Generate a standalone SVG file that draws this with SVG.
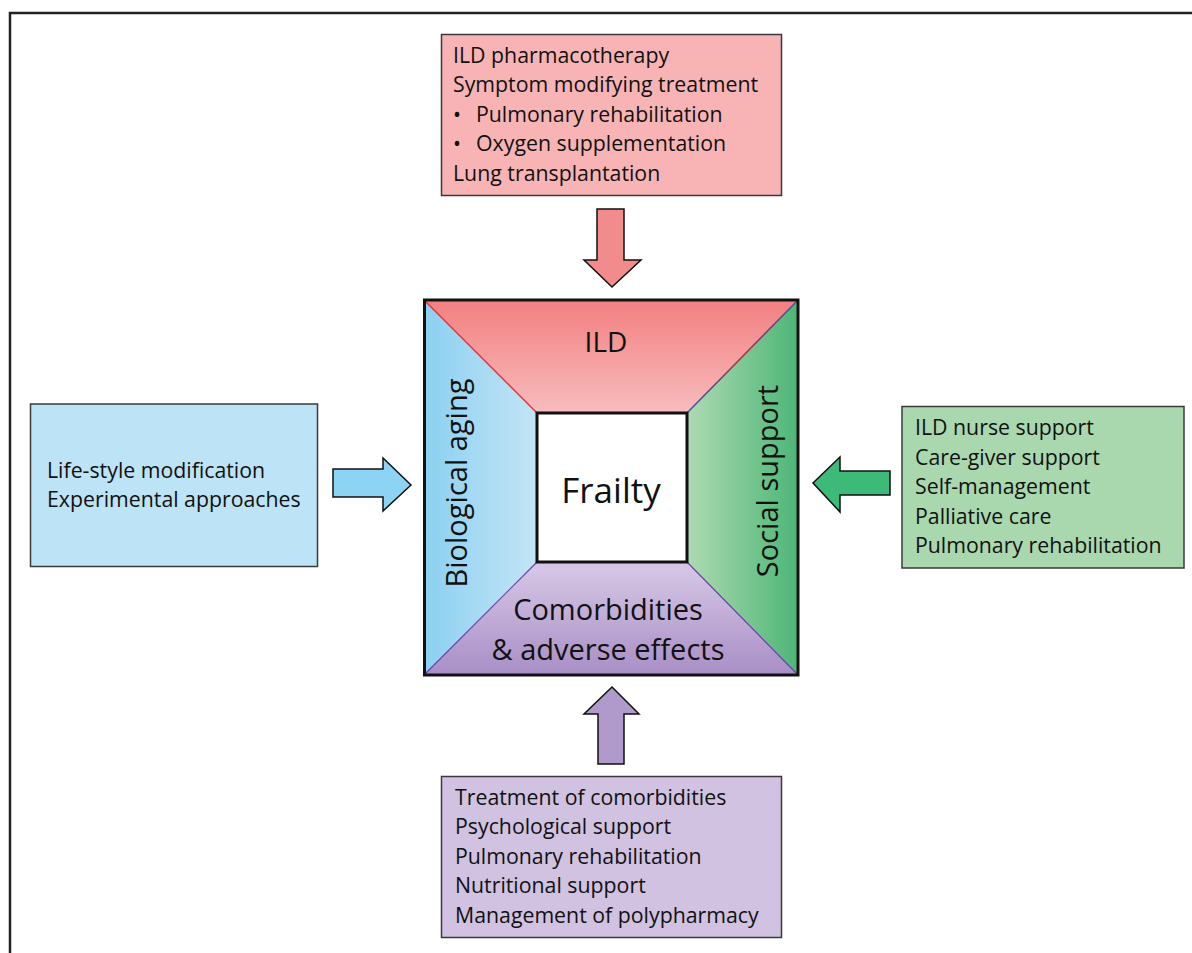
<svg xmlns="http://www.w3.org/2000/svg" width="1192" height="953" viewBox="0 0 1192 953">
<defs>
<linearGradient id="gTop" x1="0" y1="0" x2="0" y2="1"><stop offset="0" stop-color="#F27F80"/><stop offset="1" stop-color="#F8BCBD"/></linearGradient>
<linearGradient id="gLeft" x1="0" y1="0" x2="1" y2="0"><stop offset="0" stop-color="#8BD0F1"/><stop offset="1" stop-color="#C3E5F6"/></linearGradient>
<linearGradient id="gRight" x1="0" y1="0" x2="1" y2="0"><stop offset="0" stop-color="#AEDAB3"/><stop offset="1" stop-color="#4DB676"/></linearGradient>
<linearGradient id="gBot" x1="0" y1="0" x2="0" y2="1"><stop offset="0" stop-color="#D8C8E6"/><stop offset="1" stop-color="#A88EC6"/></linearGradient>
<style>
.box{stroke:#3a3a3a;stroke-width:1.5}
.t{font-family:"Open Sans","Liberation Sans",sans-serif;font-size:21.3px;fill:#111}
.big{font-family:"Open Sans","Liberation Sans",sans-serif;font-size:29px;fill:#111;text-anchor:middle}
.arr{stroke:#111;stroke-width:1.5;stroke-linejoin:miter}
</style>
</defs>
<rect width="1192" height="953" fill="#fff"/>
<path d="M10,953 V13 H1192" fill="none" stroke="#222" stroke-width="2.5"/>

<g id="center">
<polygon points="424,300 798,300 687,413 537,413" fill="url(#gTop)"/>
<polygon points="424,300 537,413 537,562 424,675" fill="url(#gLeft)"/>
<polygon points="798,300 798,675 687,562 687,413" fill="url(#gRight)"/>
<polygon points="537,562 687,562 798,675 424,675" fill="url(#gBot)"/>
<line x1="424" y1="300" x2="537" y2="413" stroke="#E8303A" stroke-width="1.5"/>
<line x1="798" y1="300" x2="687" y2="413" stroke="#3050A0" stroke-width="1.5"/>
<line x1="798" y1="300" x2="688" y2="412" stroke="#E8303A" stroke-width="0.8"/>
<line x1="424" y1="675" x2="537" y2="562" stroke="#6A40A8" stroke-width="1.2"/>
<line x1="798" y1="675" x2="687" y2="562" stroke="#6A40A8" stroke-width="1.2"/>
<rect x="424.5" y="300" width="373.5" height="375" fill="none" stroke="#111" stroke-width="3"/>
<rect x="537" y="413" width="150" height="149" fill="#fff" stroke="#111" stroke-width="3"/>
<text class="big" x="606" y="352" style="font-size:28px">ILD</text>
<text class="big" x="611" y="503" style="font-size:35px">Frailty</text>
<text class="big" x="608" y="620">Comorbidities</text>
<text class="big" x="608" y="660">&amp; adverse effects</text>
<text class="big" transform="translate(467,483) rotate(-90)">Biological aging</text>
<text class="big" transform="translate(778,481) rotate(-90)">Social support</text>
</g>

<g id="top-box">
<rect class="box" x="441.5" y="34.5" width="340" height="161" fill="#F8B4B5"/>
<text class="t" x="453" y="63">ILD pharmacotherapy</text>
<text class="t" x="453" y="92">Symptom modifying treatment</text>
<text class="t" x="453" y="122">•</text><text class="t" x="476" y="122">Pulmonary rehabilitation</text>
<text class="t" x="453" y="151">•</text><text class="t" x="476" y="151">Oxygen supplementation</text>
<text class="t" x="453" y="181">Lung transplantation</text>
</g>

<g id="left-box">
<rect class="box" x="30.5" y="404" width="287" height="162.5" fill="#BDE3F6"/>
<text class="t" x="47" y="478">Life-style modification</text>
<text class="t" x="47" y="507">Experimental approaches</text>
</g>

<g id="right-box">
<rect class="box" x="902" y="406.5" width="282" height="161.5" fill="#A9D8AE"/>
<text class="t" x="915" y="435">ILD nurse support</text>
<text class="t" x="915" y="465">Care-giver support</text>
<text class="t" x="915" y="494">Self-management</text>
<text class="t" x="915" y="524">Palliative care</text>
<text class="t" x="915" y="553">Pulmonary rehabilitation</text>
</g>

<g id="bottom-box">
<rect class="box" x="441.5" y="776.5" width="340" height="161" fill="#D0C2E0"/>
<text class="t" x="455" y="805">Treatment of comorbidities</text>
<text class="t" x="455" y="834">Psychological support</text>
<text class="t" x="455" y="864">Pulmonary rehabilitation</text>
<text class="t" x="455" y="893">Nutritional support</text>
<text class="t" x="455" y="923">Management of polypharmacy</text>
</g>

<g id="connectors">
<polygon class="arr" fill="#F28B8C" points="597,209 624,209 624,260 641,260 612,287 584,260 597,260"/>
<polygon class="arr" fill="#8DD3F3" points="333,469 383,469 383,458 411,485 383,511 383,497 333,497"/>
<polygon class="arr" fill="#3DB978" points="890,471 840,471 840,457 813,483 840,512 840,495 890,495"/>
<polygon class="arr" fill="#B09ACB" points="598,764 624,764 624,714 639,714 612,687 584,714 598,714"/>
</g>
</svg>
